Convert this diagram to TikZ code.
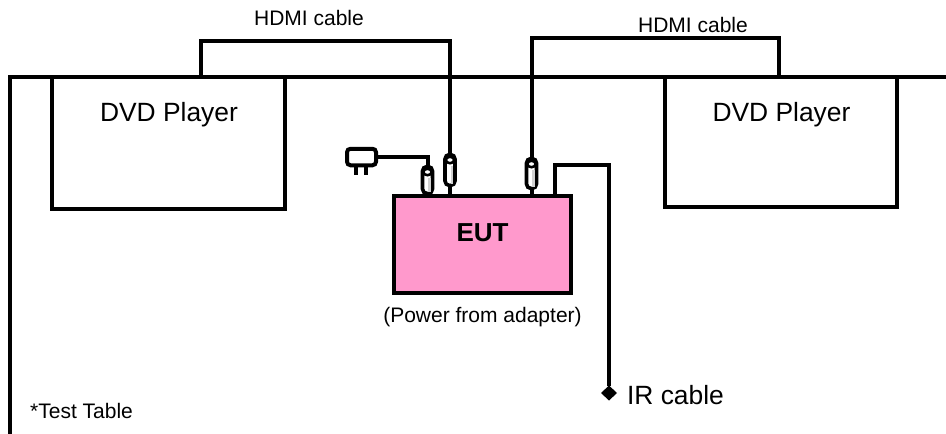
\documentclass[tikz,border=0pt]{standalone}
\usepackage{fontspec}
\setmainfont{Liberation Sans}
\usetikzlibrary{shapes.geometric}
\definecolor{eutpink}{RGB}{255,153,204}
\tikzset{
  wire/.style={draw=black,line width=4pt,line join=miter},
  box/.style={draw=black,line width=4pt,fill=white,inner sep=0pt,outer sep=0pt,anchor=north west},
  connbody/.style={draw=black,line width=3.6pt,fill=white,rounded corners=4.5pt,minimum width=10pt,inner sep=0pt,outer sep=0pt},
  lbl/.style={inner sep=0pt,anchor=base,font=\fontsize{#1}{#1}\selectfont}
}
\newcommand{\connmark}[1]{%
  \fill[black!18] ([xshift=0.5pt,yshift=-11pt]#1.north) rectangle ([xshift=3.4pt,yshift=2pt]#1.south);
  \draw[black,line width=2.6pt,fill=white] ([yshift=-5.5pt]#1.north) ellipse (4.2pt and 3.2pt);
}
\begin{document}
\begin{tikzpicture}[x=1pt,y=-1pt]
\useasboundingbox (0,0) rectangle (946,434);
% table
\coordinate (tl) at (10,76.5);
\coordinate (tb) at (10,434);
\coordinate (tr) at (946,76.5);
\draw[wire] (tb) -- (tl) -- (tr);
% boxes
\node[box,minimum width=233pt,minimum height=132.5pt] (dvdl) at (52,76.5) {};
\node[box,minimum width=232pt,minimum height=130.5pt] (dvdr) at (665,76.5) {};
\node[box,minimum width=177pt,minimum height=97pt,fill=eutpink] (eut) at (394,196) {};
% coordinates
\coordinate (hl) at (201,76.5);
\coordinate (hr) at (779,76.5);
\coordinate (ir) at (555,196);
% connectors
\node[connbody,minimum height=27pt] (c1) at (427.5,180) {};
\node[connbody,minimum height=31pt] (c2) at (450,170) {};
\node[connbody,minimum height=30pt] (c3) at (531.5,173.5) {};
\draw[wire] (hl) -- (201,41) -- (450,41) -- (c2.north);
\draw[wire] (c2.south) -- (c2.south |- eut.north);
\draw[wire] (hr) -- (779,37.5) -- (531.5,37.5) -- (c3.north);
\draw[wire] (c3.south) -- (c3.south |- eut.north);
\draw[wire] (c1.south) -- (c1.south |- eut.north);
\connmark{c1}\connmark{c2}\connmark{c3}
% plug
\node[draw=black,line width=4pt,fill=white,rounded corners=3.5pt,minimum width=29pt,minimum height=16.5pt,inner sep=0pt,outer sep=0pt] (plug) at (361.5,157) {};
\draw[black,line width=3.2pt] (356,165) -- (356,174.5) (366,165) -- (366,174.5);
\draw[wire] (plug.east) -- (plug.east -| c1.north) -- (c1.north);
% IR
\node[diamond,fill=black,minimum width=16pt,minimum height=15pt,inner sep=0pt,outer sep=0pt] (dm) at (609,393) {};
\draw[wire] (ir) -- (555,165) -- (609,165) -- (dm.north);
% text
\node[lbl=21] (t1) at (309,25.7) {HDMI cable};
\node[lbl=21] (t2) at (693,32) {HDMI cable};
\node[lbl=26.4] (d1) at (169,121.7) {DVD Player};
\node[lbl=26.4] (d2) at (781.5,121.7) {DVD Player};
\node[lbl=26,font=\bfseries\fontsize{26}{26}\selectfont] (e) at (482.5,241.7) {EUT};
\node[lbl=21] (pw) at (482.5,322.7) {(Power from adapter)};
\node[lbl=26.4] (irt) at (675.5,404) {IR cable};
\node[lbl=21] (tt) at (81.5,418) {*Test Table};
\end{tikzpicture}
\end{document}
